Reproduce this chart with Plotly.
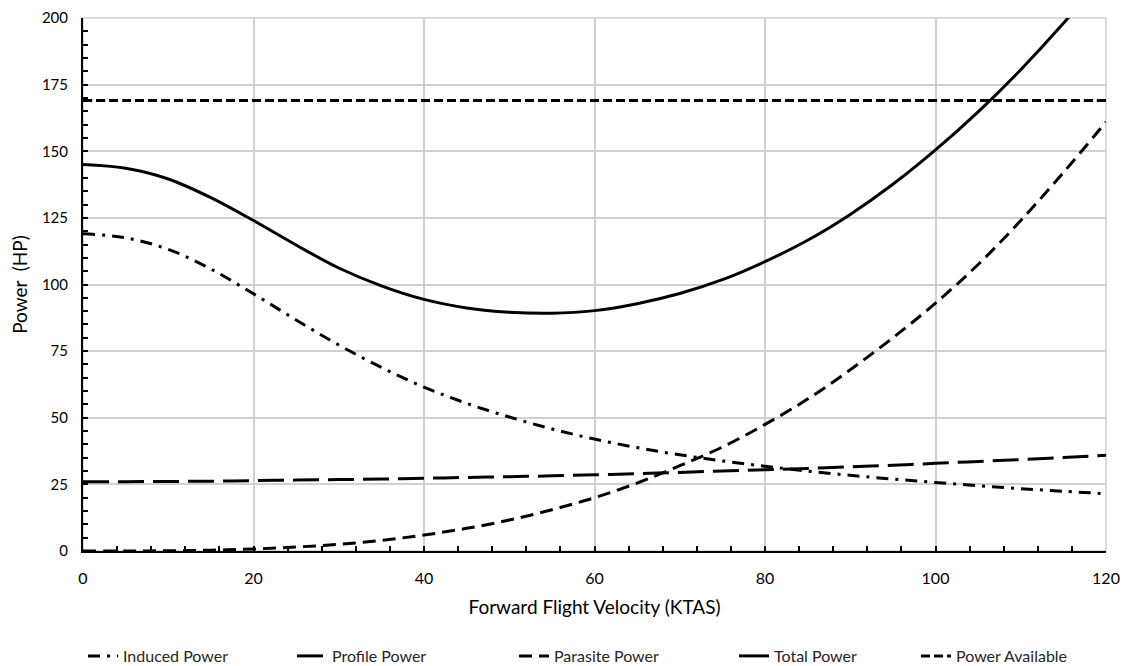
import plotly.graph_objects as go

velocity = [0, 5, 10, 15, 20, 25, 30, 35, 40, 45, 50, 55, 60, 65, 70, 75, 80, 85, 90, 95, 100, 105, 110, 115, 120]

induced_power = [119, 117.5, 113.2, 105.8, 96.5, 86.7, 77.3, 68.9, 61.5, 55.4, 50.3, 45.8, 42.0, 38.8, 36.1, 33.8, 31.8, 30.0, 28.4, 27.0, 25.7, 24.5, 23.4, 22.4, 21.5]
profile_power = [26.0, 26.0, 26.1, 26.2, 26.4, 26.6, 26.8, 27.0, 27.3, 27.6, 27.9, 28.2, 28.6, 29.0, 29.5, 30.0, 30.5, 31.0, 31.6, 32.2, 32.9, 33.6, 34.3, 35.1, 35.9]
parasite_power = [0, 0.01, 0.1, 0.3, 0.75, 1.5, 2.5, 4, 6, 8.5, 11.6, 15.5, 20, 25.5, 32, 39, 47.5, 57, 68, 80, 93, 107.5, 124, 142, 161]
total_power = [145, 143.6, 139.6, 132.6, 124, 114.8, 106.2, 99.5, 94.4, 91.2, 89.6, 89.2, 90.2, 92.8, 96.6, 101.8, 108.6, 116.6, 126.3, 137.6, 150.5, 164.8, 180.6, 198, 217]
power_available = [169] * len(velocity)

x_ticks = [0, 20, 40, 60, 80, 100, 120]
y_ticks = [0, 25, 50, 75, 100, 125, 150, 175, 200]

series = [
    ("Induced Power", induced_power, "12px,7px,3px,7px"),
    ("Profile Power", profile_power, "26px,9px"),
    ("Parasite Power", parasite_power, "13px,7px"),
    ("Total Power", total_power, "solid"),
    ("Power Available", power_available, "9px,4px"),
]

# page offset of the figure (browser body margin)
OFF = 8
# legend text start positions in page pixels (layout only)
legend_text_px = [125, 334, 556, 776, 958]

W, H = 1134 - OFF, 666 - OFF
ML, MT = 83 - OFF, 18 - OFF
MR = W - (1106 - OFF)
MB = H - (551 - OFF)
plot_w = W - ML - MR
plot_h = H - MT - MB

font_family = "Lato, 'Open Sans', sans-serif"

fig = go.Figure()
legend_layouts = {}
for i, (name, vals, dash) in enumerate(series):
    lname = "legend" if i == 0 else f"legend{i + 1}"
    fig.add_trace(go.Scatter(
        x=velocity, y=vals, name=name, mode="lines", legend=lname,
        line=dict(color="black", width=3, dash=dash, shape="spline", smoothing=1.0),
    ))
    legend_layouts[lname] = dict(
        orientation="h",
        x=(legend_text_px[i] - OFF - 42 - ML) / plot_w, xanchor="left",
        y=(MT + plot_h - (656 - OFF)) / plot_h, yanchor="middle",
        font=dict(size=16, color="#262626"),
        bgcolor="rgba(0,0,0,0)",
    )

fig.update_layout(
    width=W, height=H,
    margin=dict(l=ML, r=MR, t=MT, b=MB, autoexpand=False),
    plot_bgcolor="white", paper_bgcolor="white",
    font=dict(family=font_family, color="black", size=16),
    showlegend=True,
    shapes=[dict(type="rect", xref="paper", yref="paper", x0=0, y0=0, x1=1, y1=1,
                 line=dict(color="#d0d0d0", width=1.5), layer="below")],
    **legend_layouts,
)

fig.update_xaxes(
    range=[0, 120], tickvals=x_ticks, showgrid=True, gridcolor="#d0d0d0", gridwidth=1.5,
    showline=True, linecolor="black", linewidth=2, automargin=False,
    ticks="inside", ticklen=5, tickcolor="black", tickwidth=1.5, ticklabelstandoff=12,
    ticklabeloverflow="allow",
    minor=dict(dtick=4, ticks="inside", ticklen=5, tickcolor="black", tickwidth=1.5, showgrid=False),
    title=dict(text="Forward Flight Velocity (KTAS)", font=dict(size=19), standoff=14),
    tickfont=dict(size=16), zeroline=False,
)
fig.update_yaxes(
    range=[0, 200], tickvals=y_ticks, showgrid=True, gridcolor="#d0d0d0", gridwidth=1.5,
    showline=True, linecolor="black", linewidth=2, automargin=False,
    ticks="inside", ticklen=5, tickcolor="black", tickwidth=1.5, ticklabelstandoff=10,
    ticklabeloverflow="allow",
    minor=dict(dtick=5, ticks="inside", ticklen=5, tickcolor="black", tickwidth=1.5, showgrid=False),
    title=dict(text="Power  (HP)", font=dict(size=19), standoff=12),
    tickfont=dict(size=15), zeroline=False,
)

fig.write_html("out.html")
